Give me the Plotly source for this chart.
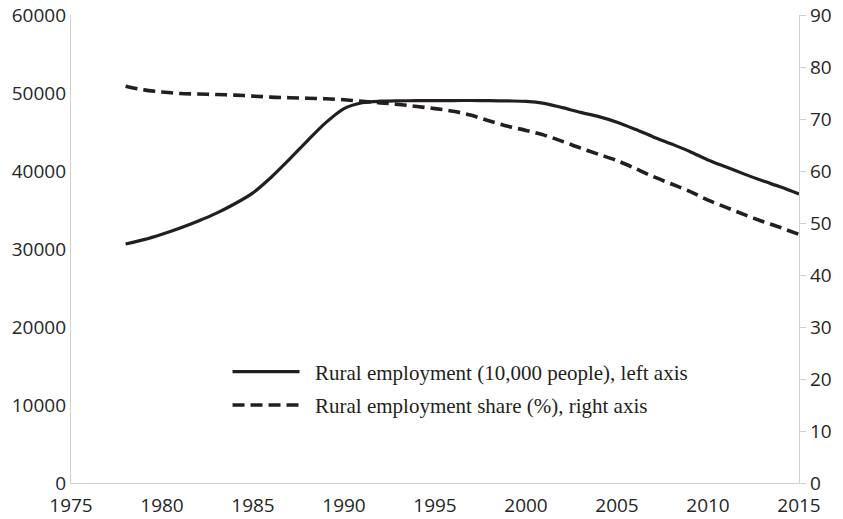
import plotly.graph_objects as go

years = list(range(1978, 2016))
rural_employment = [30640, 31200, 31900, 32700, 33600, 34600, 35800, 37200, 39200, 41500,
                    43900, 46200, 48000, 48750, 48950, 49000, 49010, 49030, 49030, 49040,
                    49020, 48980, 48930, 48670, 48120, 47510, 46970, 46260, 45350, 44370,
                    43460, 42510, 41420, 40510, 39600, 38740, 37940, 37040]
rural_share = [76.3, 75.6, 75.2, 74.9, 74.8, 74.7, 74.6, 74.4, 74.2, 74.1,
               74.0, 73.9, 73.7, 73.4, 73.1, 72.8, 72.4, 72.0, 71.5, 70.7,
               69.6, 68.6, 67.8, 66.9, 65.7, 64.4, 63.2, 62.0, 60.5, 58.9,
               57.5, 56.1, 54.4, 53.0, 51.6, 50.3, 49.1, 47.8]

left_ticks = [0, 10000, 20000, 30000, 40000, 50000, 60000]
right_ticks = [0, 10, 20, 30, 40, 50, 60, 70, 80, 90]
x_ticks = [1975, 1980, 1985, 1990, 1995, 2000, 2005, 2010, 2015]

pad = "\u00a0\u00a0"
name1 = pad + "Rural employment (10,000 people), left axis"
name2 = pad + "Rural employment share (%), right axis"

ink = "#231f20"
grey = "#d0d0d0"
tickfont = dict(family="Open Sans", size=19, color="#262626")

fig = go.Figure()
fig.add_trace(go.Scatter(x=years, y=rural_employment, mode="lines", name=name1,
                         line=dict(color=ink, width=3.2, shape="spline", smoothing=0.8),
                         legendgroup="a", yaxis="y"))
fig.add_trace(go.Scatter(x=years, y=rural_share, mode="lines", name=name2,
                         line=dict(color=ink, width=3.6, dash="12px,6px", shape="spline", smoothing=0.8),
                         legendgroup="b", yaxis="y2"))

# page body has an 8px margin; figure sized so the plot lands where the reference has it
fig.update_layout(
    width=835, height=511,
    margin=dict(l=63, r=44, t=7, b=36),
    paper_bgcolor="white", plot_bgcolor="white",
    showlegend=True,
    legend=dict(x=0.215, y=0.281, xanchor="left", yanchor="top",
                bgcolor="rgba(0,0,0,0)", itemwidth=67, tracegroupgap=3,
                traceorder="grouped",
                font=dict(family="Liberation Serif", size=21, color=ink)),
    xaxis=dict(range=[1975, 2015], tickvals=x_ticks, ticktext=[str(t) for t in x_ticks],
               showgrid=False, zeroline=False, showline=True, linecolor=grey, linewidth=1.3,
               ticks="", tickfont=tickfont, automargin=False, ticklabeloverflow="allow",
               ticklabelstandoff=5),
    yaxis=dict(range=[0, 60000], tickvals=left_ticks, ticktext=[str(t) for t in left_ticks],
               showgrid=False, zeroline=False, showline=True, linecolor=grey, linewidth=1.3,
               ticks="", tickfont=tickfont, automargin=False, ticklabeloverflow="allow"),
    yaxis2=dict(range=[0, 90], tickvals=right_ticks, overlaying="y", side="right",
                showgrid=False, zeroline=False, showline=True, linecolor=grey, linewidth=1.3,
                ticks="outside", ticklen=6, tickcolor=grey, tickfont=tickfont, automargin=False,
                ticklabeloverflow="allow"),
)

fig.write_html("out.html")
